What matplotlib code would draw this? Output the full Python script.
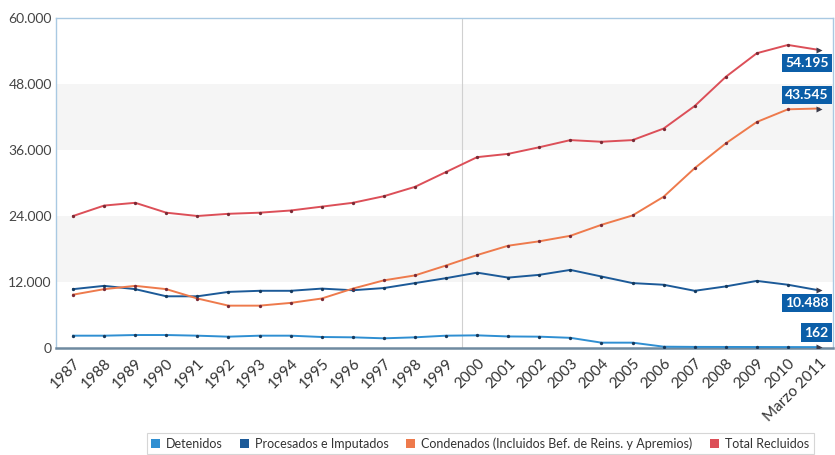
import matplotlib
matplotlib.use("Agg")
import matplotlib.pyplot as plt
from matplotlib.patches import Patch

plt.rcParams['font.family'] = ['Lato', 'DejaVu Sans']

years = list(range(1987, 2012))
year_labels = [str(y) for y in range(1987, 2011)] + ["Marzo 2011"]

detenidos = [2240, 2240, 2360, 2360, 2240, 2060, 2240, 2240, 2000, 1940, 1760, 1940,
             2240, 2300, 2100, 2060, 1850, 970, 970, 240, 200, 190, 180, 170, 162]
procesados = [10700, 11300, 10700, 9400, 9400, 10200, 10400, 10400, 10800, 10500, 10900, 11800,
              12700, 13700, 12800, 13300, 14200, 13000, 11800, 11500, 10400, 11200, 12200, 11500, 10488]
condenados = [9700, 10700, 11300, 10700, 9000, 7700, 7700, 8200, 9000, 10800, 12300, 13200,
              15000, 16900, 18600, 19400, 20400, 22400, 24100, 27500, 32700, 37200, 41100, 43400, 43545]
total = [24000, 25900, 26400, 24600, 24000, 24400, 24600, 25000, 25700, 26400, 27600, 29300,
         32000, 34700, 35300, 36500, 37800, 37500, 37800, 39900, 44000, 49300, 53600, 55100, 54195]

series_names = ["Detenidos", "Procesados e Imputados",
                "Condenados (Incluidos Bef. de Reins. y Apremios)", "Total Recluidos"]
series_colors = ["#2f8fd2", "#1c5a98", "#ee7a4c", "#dc4f58"]

y_ticks = [0, 12000, 24000, 36000, 48000, 60000]
y_tick_labels = ["0", "12.000", "24.000", "36.000", "48.000", "60.000"]

fig = plt.figure(figsize=(8.35, 4.55), dpi=100)
ax = fig.add_axes([56 / 835, 107 / 455, 777 / 835, 330 / 455])

# alternating horizontal bands
for lo, hi in [(12000, 24000), (36000, 48000)]:
    ax.axhspan(lo, hi, color="#f5f5f5", zorder=0, lw=0)

ax.axvline(1999.5, color="#d0d0d0", lw=0.8, zorder=1)

all_series = [detenidos, procesados, condenados, total]
for vals, color in zip(all_series, series_colors):
    ax.plot(years, vals, color=color, lw=1.4, zorder=3)
    ax.plot(years[:-1], vals[:-1], ls="none", marker="o", ms=2.4,
            mfc="#7a2a35" if color in ("#dc4f58", "#ee7a4c") else "#153a5e",
            mec="none", zorder=4)
    ax.plot(years[-1:], vals[-1:], ls="none", marker=">", ms=5,
            mfc="#3a3a4a", mec="none", zorder=4)

# value boxes for the last point
label_offsets = {0: 10.5, 1: -9, 2: 9.5, 3: -9.5}
for i, vals in enumerate(all_series):
    v = vals[-1]
    txt = f"{v:,}".replace(",", ".")
    ax.annotate(txt, xy=(years[-1], v), xytext=(7, label_offsets[i]),
                textcoords="offset points", ha="right", va="center",
                fontsize=10, color="white", fontweight="bold",
                bbox=dict(boxstyle="square,pad=0.22", fc="#0b5ea8", ec="none"),
                annotation_clip=False, zorder=6)

ax.set_xlim(1986.45, 2011.45)
ax.set_ylim(0, 60000)
ax.set_yticks(y_ticks)
ax.set_yticklabels(y_tick_labels, fontsize=10, color="#444444")
ax.set_xticks(years)
ax.set_xticklabels(year_labels, rotation=45, ha="right", va="top",
                   rotation_mode="anchor", fontsize=11, color="#333333")
ax.tick_params(axis="both", length=0, pad=3)
ax.tick_params(axis="x", pad=6)

for side in ["left", "right", "top"]:
    ax.spines[side].set_color("#a9c9e2")
    ax.spines[side].set_linewidth(1.0)
ax.spines["bottom"].set_color("#6f8aa0")
ax.spines["bottom"].set_linewidth(1.8)
ax.set_facecolor("white")

handles = [Patch(facecolor=c, edgecolor="none") for c in series_colors]
leg = fig.legend(handles, series_names, loc="lower center", ncol=4,
                 bbox_to_anchor=(0.575, -0.012), fontsize=9, frameon=True,
                 handlelength=0.7, handleheight=0.7, handletextpad=0.5,
                 columnspacing=1.4, borderpad=0.35, fancybox=False)
leg.get_frame().set_edgecolor("#cccccc")
leg.get_frame().set_linewidth(0.8)
for t in leg.get_texts():
    t.set_color("#333333")

fig.savefig("out.png", dpi=100)
